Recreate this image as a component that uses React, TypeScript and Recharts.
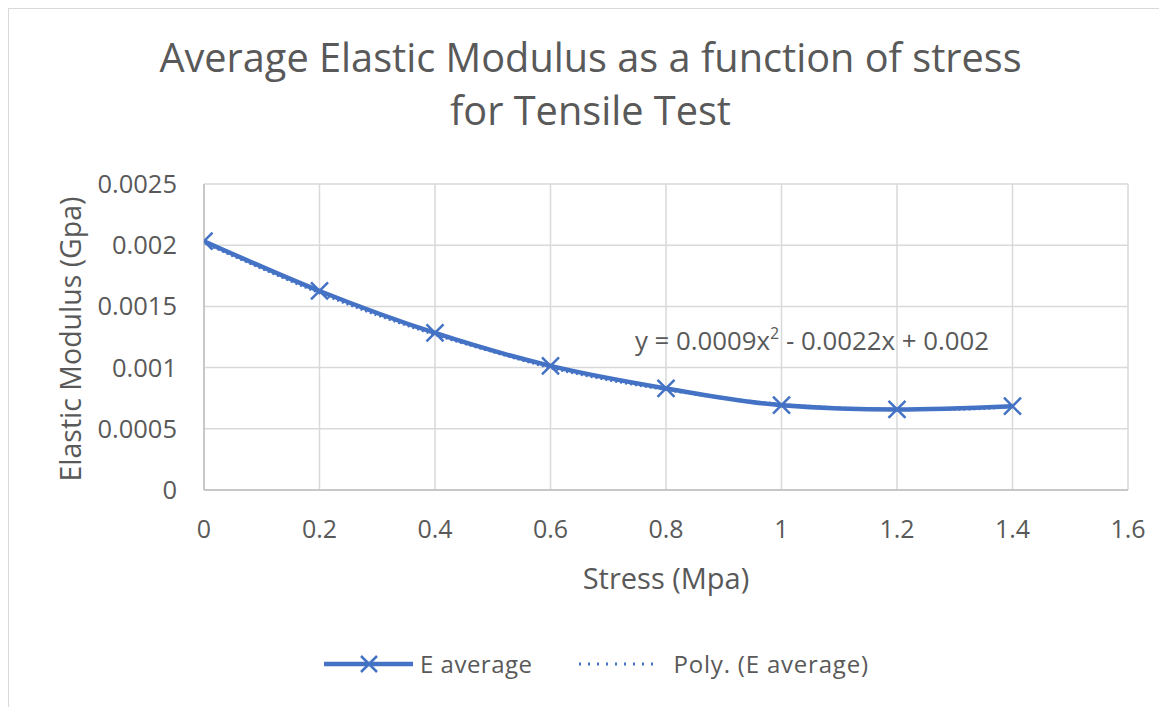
import React from "react";
import { LineChart, Line, XAxis, YAxis, CartesianGrid } from "recharts";

const stressValues = [0, 0.2, 0.4, 0.6, 0.8, 1.0, 1.2, 1.4];
const modulusValues = [0.002033, 0.001626, 0.001283, 0.001014, 0.00083, 0.000693, 0.000658, 0.000685];

const trendStress = [0, 0.1, 0.2, 0.3, 0.4, 0.5, 0.6, 0.7, 0.8, 0.9, 1.0, 1.1, 1.2, 1.3, 1.4];
const trendValues = [0.00202, 0.00181, 0.00161, 0.00143, 0.00127, 0.00113, 0.001, 0.0009, 0.00082, 0.00075, 0.0007, 0.00067, 0.00066, 0.00066, 0.00068];

const xTicks = [0, 0.2, 0.4, 0.6, 0.8, 1, 1.2, 1.4, 1.6];
const yTicks = [0, 0.0005, 0.001, 0.0015, 0.002, 0.0025];

const mainData = stressValues.map((x, i) => ({ x, e: modulusValues[i] }));
const trendData = trendStress.map((x, i) => ({ x, p: trendValues[i] }));

const BLUE = "#4472C4";
const TEXT = "#595959";
const FONT = "'Open Sans', sans-serif";

const CrossDot = (props: any) => {
  const { cx, cy, index } = props;
  if (cx == null || cy == null) return <g key={index} />;
  const s = 8.5;
  return (
    <path
      key={index}
      d={`M${cx - s},${cy - s}L${cx + s},${cy + s}M${cx - s},${cy + s}L${cx + s},${cy - s}`}
      stroke={BLUE}
      strokeWidth={2.5}
      fill="none"
    />
  );
};

export default function App() {
  return (
    <div
      style={{
        position: "relative",
        width: 1170,
        height: 710,
        border: "1.5px solid #d9d9d9",
        boxSizing: "border-box",
        background: "#fff",
        fontFamily: FONT,
        color: TEXT,
        overflow: "hidden",
      }}
    >
      <div
        style={{
          position: "absolute",
          left: 0,
          top: 22,
          width: 1163,
          textAlign: "center",
          fontSize: 39.7,
          lineHeight: "53px",
        }}
      >
        Average Elastic Modulus as a function of stress
        <br />
        for Tensile Test
      </div>
      <div style={{ position: "absolute", left: 0, top: 0 }}>
        <LineChart
          width={1158}
          height={698}
          margin={{ top: 175, right: 39, left: 95, bottom: 157 }}
        >
          <CartesianGrid stroke="#d9d9d9" strokeWidth={1.5} />
          <XAxis
            dataKey="x"
            type="number"
            domain={[0, 1.6]}
            ticks={xTicks}
            tickFormatter={(v: number) => String(v)}
            height={60}
            tickSize={0}
            tickMargin={30}
            stroke="#bfbfbf"
            strokeWidth={1.5}
            tick={{ fill: TEXT, fontSize: 25, fontFamily: FONT }}
            allowDataOverflow
          />
          <YAxis
            type="number"
            domain={[0, 0.0025]}
            ticks={yTicks}
            tickFormatter={(v: number) => String(v)}
            width={100}
            tickSize={0}
            tickMargin={27}
            stroke="#bfbfbf"
            strokeWidth={1.5}
            tick={{ fill: TEXT, fontSize: 25.5, fontFamily: FONT }}
            allowDataOverflow
          />
          <Line
            data={trendData}
            dataKey="p"
            type="monotone"
            stroke={BLUE}
            strokeWidth={3}
            strokeDasharray="2 3"
            dot={false}
            activeDot={false}
            isAnimationActive={false}
          />
          <Line
            data={mainData}
            dataKey="e"
            type="monotone"
            stroke={BLUE}
            strokeWidth={4.5}
            dot={CrossDot}
            activeDot={false}
            isAnimationActive={false}
          />
        </LineChart>
      </div>
      <div
        style={{
          position: "absolute",
          left: 626,
          top: 313,
          fontSize: 25.8,
          whiteSpace: "nowrap",
        }}
      >
        y = 0.0009x<sup style={{ fontSize: 16, verticalAlign: 0, position: "relative", top: -11 }}>2</sup> - 0.0022x + 0.002
      </div>
      <div
        style={{
          position: "absolute",
          left: 0,
          top: 549,
          width: 1314,
          textAlign: "center",
          fontSize: 29,
        }}
      >
        Stress (Mpa)
      </div>
      <div
        style={{
          position: "absolute",
          left: 61,
          top: 330,
          width: 0,
          height: 0,
        }}
      >
        <div
          style={{
            position: "absolute",
            transform: "translate(-50%, -50%) rotate(-90deg)",
            whiteSpace: "nowrap",
            fontSize: 28.5,
          }}
        >
          Elastic Modulus (Gpa)
        </div>
      </div>
      <div
        style={{
          position: "absolute",
          top: 638,
          left: 313,
          display: "flex",
          alignItems: "center",
          fontSize: 24,
          whiteSpace: "nowrap",
        }}
      >
        <svg width={92} height={30}>
          <line x1={2} y1={15} x2={91} y2={15} stroke={BLUE} strokeWidth={4.5} />
          <path d="M39,7L55,23M39,23L55,7" stroke={BLUE} strokeWidth={2.5} />
        </svg>
        <span style={{ marginLeft: 6, letterSpacing: 0.5 }}>E average</span>
        <svg width={84} height={30} style={{ marginLeft: 44 }}>
          <line x1={2} y1={15} x2={82} y2={15} stroke={BLUE} strokeWidth={3} strokeDasharray="2 7" />
        </svg>
        <span style={{ marginLeft: 13, letterSpacing: 0.8 }}>Poly. (E average)</span>
      </div>
    </div>
  );
}
